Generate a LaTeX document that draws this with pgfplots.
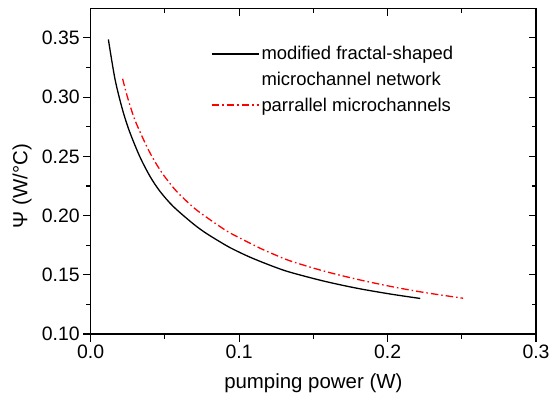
\documentclass[border=0pt]{standalone}
\usepackage{fontspec}
\setmainfont{Liberation Sans}
\usepackage{pgfplots}
\pgfplotsset{compat=1.18}
\begin{document}
\begin{tikzpicture}
\useasboundingbox (0,0) rectangle (550bp,397bp);
\pgfplotsset{
  common/.style={
    at={(90.7bp,63bp)}, anchor=south west,
    width=445.3bp, height=325.7bp, scale only axis,
    xmin=0, xmax=0.3, ymin=0.10, ymax=0.375,
    xtick={0,0.1,0.2,0.3}, ytick={0.10,0.15,0.20,0.25,0.30,0.35},
    minor x tick num=1, minor y tick num=1,
    axis line style={line width=1.2bp},
    major tick length=7.5bp, minor tick length=4.5bp,
    every tick/.style={line width=1.1bp, black},
    /pgf/number format/assume math mode=true,
  }
}
\begin{axis}[common,
    tick align=outside, xtick pos=left, ytick pos=left,
    xticklabel style={/pgf/number format/fixed, /pgf/number format/fixed zerofill, /pgf/number format/precision=1},
    yticklabel style={/pgf/number format/fixed, /pgf/number format/fixed zerofill, /pgf/number format/precision=2},
    scaled ticks=false,
    tick label style={font=\fontsize{19.5}{22}\selectfont},
    label style={font=\fontsize{20.5}{24}\selectfont},
    xlabel={pumping power (W)},
    ylabel={Ψ (W/°C)},
    xlabel style={at={(axis description cs:0.5,-0.150)}, anchor=center},
    ylabel style={at={(axis description cs:-0.154,0.454)}, anchor=center},
    legend style={at={(rel axis cs:0.2695,0.889)}, anchor=north west, draw=none, fill=none,
       font=\fontsize{18.5}{21}\selectfont, row sep=6.7bp, inner sep=0pt},
    legend cell align=left,
    legend image code/.code={\draw[#1] (0bp,0bp) -- (47.3bp,0bp);},
  ]
\addplot[black, line width=1.3bp, smooth] coordinates {
(0.0119,0.3487) (0.0164,0.3150) (0.0213,0.2900) (0.0260,0.2715) (0.0330,0.2500)
(0.0400,0.2330) (0.0467,0.2204) (0.0556,0.2077) (0.0691,0.1930) (0.0781,0.1848)
(0.0916,0.1745) (0.1005,0.1688) (0.1095,0.1637) (0.1230,0.1570) (0.1342,0.1522)
(0.1566,0.1448) (0.1791,0.1387) (0.2016,0.1338) (0.2220,0.1300)
};
\addlegendentry{modified fractal-shaped}
\addlegendimage{empty legend}
\addlegendentry{microchannel network}
\addplot[red, line width=1.3bp, smooth, dash pattern=on 7.5bp off 3bp on 1.5bp off 3bp] coordinates {
(0.0215,0.3155) (0.0250,0.2990) (0.0300,0.2800) (0.0377,0.2585) (0.0428,0.2465)
(0.0489,0.2345) (0.0579,0.2204) (0.0691,0.2070) (0.0781,0.1985) (0.0916,0.1870)
(0.1005,0.1810) (0.1140,0.1725) (0.1230,0.1675) (0.1342,0.1618) (0.1566,0.1533)
(0.1791,0.1463) (0.2016,0.1403) (0.2240,0.1352) (0.2509,0.1302)
};
\addlegendentry{parrallel microchannels}
\end{axis}
\begin{axis}[common,
    tick align=inside, xtick pos=right, ytick pos=right,
    xticklabels={}, yticklabels={},
  ]
\end{axis}
\end{tikzpicture}
\end{document}
